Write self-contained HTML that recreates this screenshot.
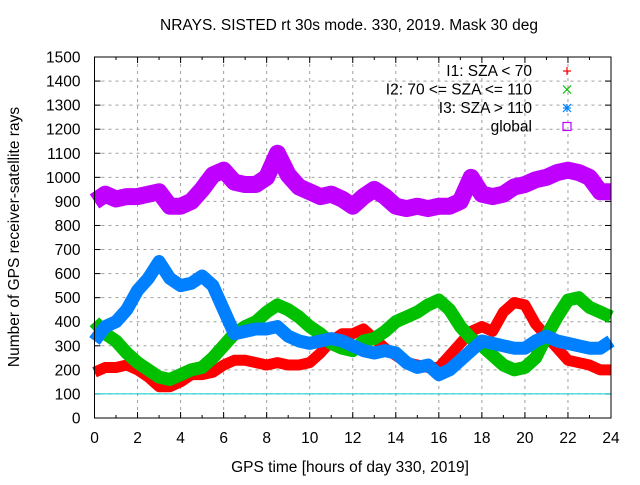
<!DOCTYPE html>
<html><head><meta charset="utf-8"><style>
body{margin:0;background:#fff}
svg text{font-family:"Liberation Sans",sans-serif;font-size:15.5px;fill:#000}
</style></head><body>
<svg id="c" width="640" height="480"></svg>
<script>
const hours=[0,0.5,1,1.5,2,2.5,3,3.5,4,4.5,5,5.5,6,6.5,7,7.5,8,8.5,9,9.5,10,10.5,11,11.5,12,12.5,13,13.5,14,14.5,15,15.5,16,16.5,17,17.5,18,18.5,19,19.5,20,20.5,21,21.5,22,22.5,23,23.5,24];
const red=[190,210,210,220,200,170,130,130,150,180,180,190,220,240,240,230,220,230,220,220,230,270,320,350,350,370,330,290,260,230,220,210,210,260,310,360,380,360,440,480,470,390,340,290,240,230,220,200,200];
const green=[400,350,320,270,230,200,170,160,180,200,210,250,300,350,380,400,440,470,450,420,380,350,310,290,280,320,330,360,400,420,440,470,490,450,380,330,300,260,220,200,210,250,340,420,490,500,460,440,420];
const blue=[320,380,400,450,530,580,650,580,550,560,590,550,450,350,360,370,370,380,340,320,310,320,330,320,300,280,270,280,270,230,210,220,180,200,240,280,320,310,300,290,290,320,340,320,310,300,290,290,320];
const globalS=[900,930,910,920,920,930,940,880,880,900,950,1010,1030,980,970,970,1000,1100,1010,960,940,920,930,910,880,920,950,920,880,870,880,870,880,880,900,1000,930,920,930,960,970,990,1000,1020,1030,1020,1000,940,940];
const xTicks=[0,2,4,6,8,10,12,14,16,18,20,22,24];
const yTicks=[0,100,200,300,400,500,600,700,800,900,1000,1100,1200,1300,1400,1500];
const legendLabels=["I1: SZA < 70","I2: 70 <= SZA <= 110","I3: SZA > 110","global"];

const L=94.5,R=611,T=57,B=418;
const X=v=>L+(R-L)*v/24, Y=v=>B-(B-T)*v/1500;
const svg=document.getElementById('c'),NS="http://www.w3.org/2000/svg";
function mk(t,a,p){const e=document.createElementNS(NS,t);for(const k in a)e.setAttribute(k,a[k]);(p||svg).appendChild(e);return e;}

let t=mk('text',{x:349,y:30,'text-anchor':'middle'});t.textContent="NRAYS. SISTED rt 30s mode. 330, 2019. Mask 30 deg";

t=mk('text',{x:350,y:472,'text-anchor':'middle'});t.textContent="GPS time [hours of day 330, 2019]";

t=mk('text',{x:0,y:0,'text-anchor':'middle',transform:'translate(19,237) rotate(-90)'});t.textContent="Number of GPS receiver-satellite rays";


yTicks.forEach(v=>{const y=Y(v);
 if(v>0&&v<1500){const g=mk('line',{x1:L,x2:R,y1:y,y2:y,stroke:'#a0a0a0','stroke-dasharray':'3,4'});}
 mk('line',{x1:L,x2:L+6,y1:y,y2:y,stroke:'#000'});mk('line',{x1:R,x2:R-6,y1:y,y2:y,stroke:'#000'});
 const tx=mk('text',{x:L-14,y:y+5.5,'text-anchor':'end'});tx.textContent=v;
 });
xTicks.forEach(v=>{const x=X(v);
 if(v>0&&v<24){const g=mk('line',{x1:x,x2:x,y1:T,y2:B,stroke:'#a0a0a0','stroke-dasharray':'3,4'});}
 mk('line',{x1:x,x2:x,y1:B,y2:B-6,stroke:'#000'});mk('line',{x1:x,x2:x,y1:T,y2:T+6,stroke:'#000'});
 const tx=mk('text',{x:x,y:B+25,'text-anchor':'middle'});tx.textContent=v;
 });
for(let i=1;i<24;i+=2){const x=X(i);mk('line',{x1:x,x2:x,y1:B,y2:B-3,stroke:'#000'});mk('line',{x1:x,x2:x,y1:T,y2:T+3,stroke:'#000'});}

const ref=mk('line',{x1:L,x2:R,y1:Y(100),y2:Y(100),stroke:'#00d0d0'});


const series=[[red,'#ff0000',11,'red-series'],[green,'#00c000',13,'green-series'],[blue,'#0080ff',13,'blue-series'],[globalS,'#c000ff',17,'global-series']];
series.forEach(([d,c,w,n])=>{
 const g=mk('g',{});
 mk('polyline',{points:d.map((v,i)=>X(hours[i])+','+Y(v)).join(' '),fill:'none',stroke:c,'stroke-width':w,'stroke-linejoin':'round','stroke-linecap':'butt'},g);
});

const lg=mk('g',{});
const cols=['#ff0000','#00c000','#0080ff','#c000ff'];
legendLabels.forEach((s,i)=>{const y=76+i*18.5;
 const tx=mk('text',{x:532,y:y,'text-anchor':'end'},lg);tx.textContent=s;
 
 const m=mk('g',{stroke:cols[i],fill:'none','stroke-width':1.2},lg);
 
 const cx=567,cy=y-5,r=4;
 if(i==0||i==2){mk('line',{x1:cx-r,x2:cx+r,y1:cy,y2:cy},m);mk('line',{x1:cx,x2:cx,y1:cy-r,y2:cy+r},m);}
 if(i==1||i==2){mk('line',{x1:cx-r,x2:cx+r,y1:cy-r,y2:cy+r},m);mk('line',{x1:cx-r,x2:cx+r,y1:cy+r,y2:cy-r},m);}
 if(i==3){mk('rect',{x:cx-r,y:cy-r,width:2*r,height:2*r},m);}
});

const fr=mk('rect',{x:L,y:T,width:R-L,height:B-T,fill:'none',stroke:'#000'});

</script>
</body></html>
